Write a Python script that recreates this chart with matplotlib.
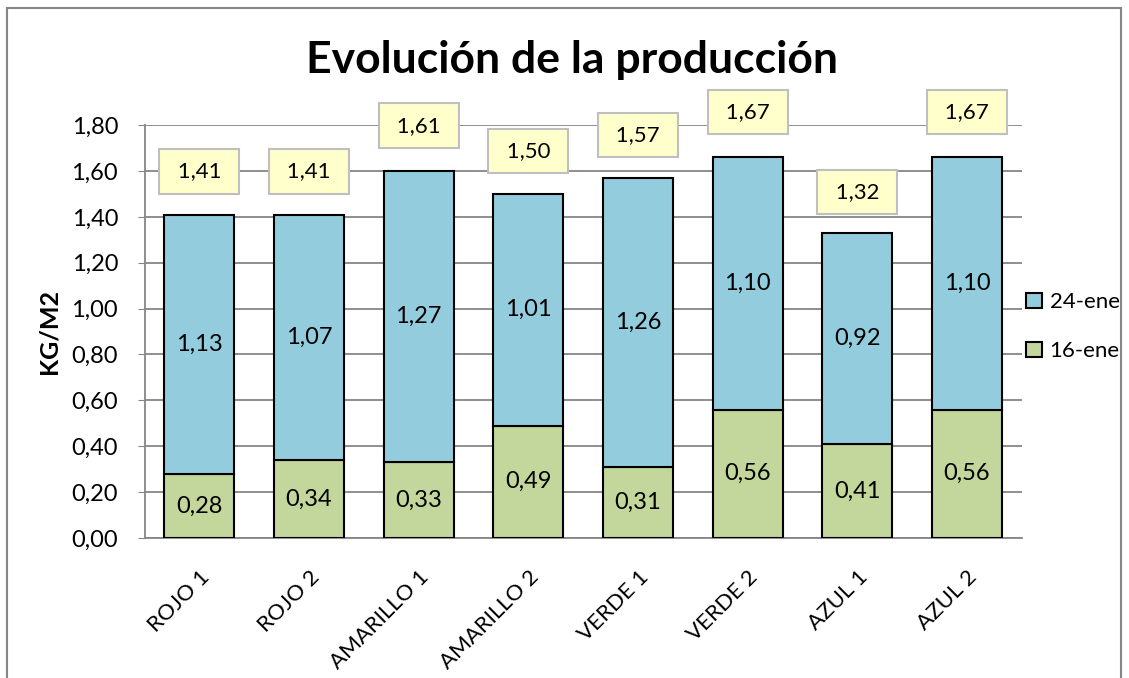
import numpy as np
import matplotlib
matplotlib.use("Agg")
import matplotlib.pyplot as plt
from matplotlib.patches import Patch

plt.rcParams['font.family'] = ['Lato', 'DejaVu Sans']

categories = ['ROJO 1', 'ROJO 2', 'AMARILLO 1', 'AMARILLO 2',
              'VERDE 1', 'VERDE 2', 'AZUL 1', 'AZUL 2']
ene16 = [0.28, 0.34, 0.33, 0.49, 0.31, 0.56, 0.41, 0.56]
ene24 = [1.13, 1.07, 1.27, 1.01, 1.26, 1.10, 0.92, 1.10]
totals = [1.41, 1.41, 1.61, 1.50, 1.57, 1.67, 1.32, 1.67]

green = '#C3D69B'
blue = '#93CDDD'


def fmt(v):
    return f'{v:.2f}'.replace('.', ',')


fig = plt.figure(figsize=(11.29, 6.78), dpi=100)
ax = fig.add_axes([0.128, 0.2065, 0.777, 0.609])

x = np.arange(len(categories))
w = 0.64
ax.bar(x, ene16, w, color=green, edgecolor='black', linewidth=1.5, zorder=3)
ax.bar(x, ene24, w, bottom=ene16, color=blue, edgecolor='black', linewidth=1.5, zorder=3)

for i in range(len(x)):
    ax.text(x[i], ene16[i] / 2, fmt(ene16[i]), ha='center', va='center', fontsize=17, zorder=4)
    ax.text(x[i], ene16[i] + ene24[i] / 2, fmt(ene24[i]), ha='center', va='center', fontsize=17, zorder=4)
    ax.annotate(' ' + fmt(totals[i]) + ' ', (x[i], totals[i]), xytext=(0, 31), textcoords='offset points',
                ha='center', va='center', fontsize=16, zorder=5, annotation_clip=False,
                bbox=dict(boxstyle='square,pad=0.55', fc='#FFFFCC', ec='#BFBFBF', lw=1.5))

ax.set_ylim(0, 1.8)
ax.set_xlim(-0.5, len(categories) - 0.5)
yt = np.arange(0, 1.81, 0.2)
ax.set_yticks(yt)
ax.set_yticklabels([fmt(v) for v in yt], fontsize=17)
ax.set_xticks(x)
ax.set_xticklabels(categories, rotation=45, ha='right', rotation_mode='anchor', fontsize=16)
ax.tick_params(axis='x', length=0, pad=21)
ax.tick_params(axis='y', length=5, color='#868686', direction='out', pad=14)
ax.yaxis.grid(True, color='#868686', linewidth=1.3, zorder=0)
for s in ['top', 'right']:
    ax.spines[s].set_visible(False)
for s in ['left', 'bottom']:
    ax.spines[s].set_color('#868686')
    ax.spines[s].set_linewidth(1.3)

ax.set_ylabel('KG/M2', fontsize=18, fontweight='bold', labelpad=8)
fig.text(0.507, 0.912, 'Evolución de la producción', ha='center', va='center',
         fontsize=32, fontweight='bold')

handles = [Patch(facecolor=blue, edgecolor='black', linewidth=1.5),
           Patch(facecolor=green, edgecolor='black', linewidth=1.5)]
fig.legend(handles, ['24-ene', '16-ene'], loc='center left', bbox_to_anchor=(0.909, 0.518),
           frameon=False, fontsize=16, handlelength=0.7, handleheight=0.7,
           handletextpad=0.35, labelspacing=1.3, borderpad=0, borderaxespad=0)

border = plt.Rectangle((0.0065, -0.01), 0.9865, 0.998, transform=fig.transFigure,
                       fill=False, ec='#868686', lw=1.5)
fig.patches.append(border)

fig.savefig('out.png', dpi=100)
